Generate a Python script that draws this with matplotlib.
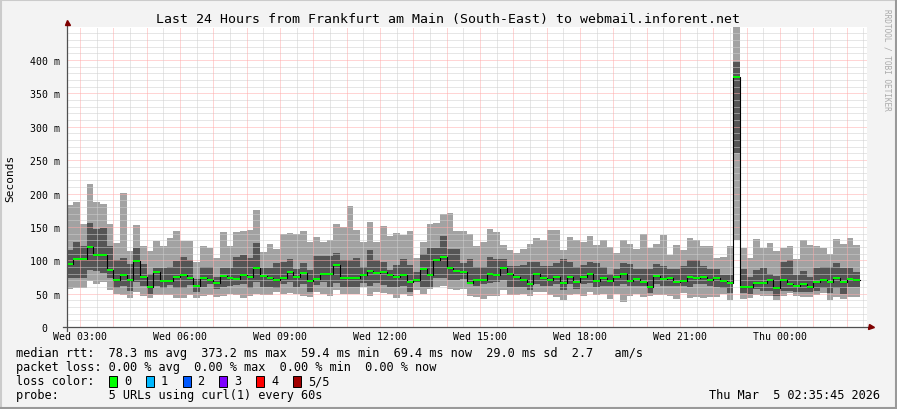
import matplotlib
matplotlib.use("Agg")
import matplotlib.pyplot as plt
import numpy as np
from matplotlib.lines import Line2D
from matplotlib.patches import Rectangle

# 12 minute bars, times in hours since Wed 00:00
t_first = 2.6
t_step = 0.2

# median rtt per bar (ms)
median = [95, 102, 102, 120, 108, 108, 86, 71, 78, 71, 99, 75, 60, 83, 69, 69, 75, 78, 74, 62,
          74, 71, 66, 77, 74, 72, 78, 75, 89, 77, 74, 71, 74, 83, 75, 81, 69, 72, 80, 80,
          93, 74, 74, 74, 78, 84, 81, 83, 78, 75, 78, 68, 71, 87, 78, 101, 105, 89, 84, 82,
          66, 71, 71, 80, 78, 89, 80, 75, 71, 65, 79, 74, 71, 75, 66, 75, 68, 75, 79, 69,
          73, 69, 75, 79, 69, 72, 67, 60, 77, 72, 74, 67, 69, 75, 74, 75, 71, 74, 69, 66,
          375, 60, 60, 66, 66, 71, 59, 71, 65, 62, 65, 60, 68, 71, 68, 73, 68, 72, 70]

# smoke: outer (light) band and inner (dark) band
light_top = [183, 187, 155, 214, 187, 184, 154, 126, 201, 114, 153, 121, 114, 129, 121, 134, 144, 129, 129, 98,
             121, 118, 104, 142, 121, 142, 144, 146, 176, 112, 124, 117, 140, 141, 140, 144, 127, 135, 127, 130,
             154, 150, 181, 145, 127, 157, 127, 152, 136, 141, 138, 144, 103, 128, 154, 156, 170, 171, 144, 144,
             140, 121, 128, 147, 143, 123, 116, 111, 117, 125, 133, 130, 146, 146, 115, 135, 130, 127, 136, 123,
             130, 120, 111, 130, 125, 117, 140, 118, 125, 138, 108, 123, 115, 133, 130, 121, 121, 103, 105, 121,
             460, 119, 103, 132, 118, 126, 114, 119, 121, 102, 130, 123, 121, 119, 110, 132, 124, 134, 123]
dark_top = [116, 128, 122, 156, 147, 149, 122, 101, 103, 94, 118, 94, 79, 88, 88, 90, 99, 105, 100, 72,
            90, 90, 75, 88, 88, 105, 108, 103, 126, 88, 88, 96, 97, 102, 87, 96, 85, 106, 106, 106,
            111, 101, 101, 104, 90, 115, 101, 98, 86, 93, 102, 93, 83, 110, 118, 118, 137, 117, 117, 96,
            102, 90, 90, 105, 102, 102, 92, 92, 93, 98, 98, 92, 92, 96, 102, 98, 90, 93, 98, 96,
            90, 80, 87, 96, 95, 87, 87, 87, 95, 91, 87, 87, 92, 100, 100, 92, 87, 87, 78, 78,
            397, 87, 75, 86, 88, 80, 76, 98, 100, 78, 84, 75, 88, 90, 90, 96, 88, 88, 82]
dark_bot = [73, 74, 74, 86, 84, 81, 73, 58, 61, 54, 68, 61, 49, 61, 59, 63, 59, 59, 63, 52,
            60, 65, 57, 60, 61, 63, 65, 58, 68, 60, 60, 58, 65, 67, 60, 65, 53, 63, 67, 60,
            66, 60, 60, 60, 66, 61, 66, 63, 60, 60, 61, 53, 68, 60, 60, 73, 74, 70, 70, 72,
            65, 62, 65, 66, 67, 70, 60, 60, 60, 56, 65, 62, 61, 65, 56, 65, 57, 65, 66, 60,
            62, 61, 62, 64, 61, 62, 61, 51, 64, 61, 62, 61, 62, 60, 64, 64, 62, 60, 58, 51,
            261, 51, 50, 57, 54, 54, 47, 54, 54, 53, 53, 53, 54, 58, 51, 58, 50, 60, 60]
light_bot = [57, 58, 58, 69, 64, 67, 56, 49, 48, 44, 52, 47, 43, 48, 48, 48, 44, 44, 48, 43,
             47, 48, 45, 47, 50, 48, 43, 46, 50, 48, 48, 52, 50, 51, 50, 46, 45, 53, 50, 47,
             55, 50, 50, 50, 60, 46, 53, 51, 50, 43, 50, 46, 56, 50, 57, 60, 61, 57, 56, 57,
             46, 45, 42, 47, 47, 55, 48, 48, 50, 47, 52, 52, 48, 45, 41, 48, 50, 46, 52, 48,
             50, 42, 50, 38, 47, 50, 45, 46, 48, 48, 46, 42, 51, 43, 45, 43, 45, 45, 50, 40,
             131, 42, 43, 48, 47, 46, 41, 47, 51, 46, 45, 45, 48, 51, 41, 45, 42, 45, 45]

y_ticks = [0, 50, 100, 150, 200, 250, 300, 350, 400]
y_labels = ["0  ", "50 m", "100 m", "150 m", "200 m", "250 m", "300 m", "350 m", "400 m"]
x_ticks = [3, 6, 9, 12, 15, 18, 21, 24]
x_labels = ["Wed 03:00", "Wed 06:00", "Wed 09:00", "Wed 12:00",
            "Wed 15:00", "Wed 18:00", "Wed 21:00", "Thu 00:00"]

loss_names = ["0", "1", "2", "3", "4", "5/5"]
loss_colors = ["#00ff00", "#00b8ff", "#0059ff", "#7e00ff", "#ff0000", "#a10000"]

W, H = 897, 410
MONO = "DejaVu Sans Mono"


def fx(x):
    return x / W


def fy(y):
    return 1 - y / H


fig = plt.figure(figsize=(W / 100, H / 100), dpi=100, facecolor="#f3f3f3")
ax = fig.add_axes([fx(67), fy(328), 800 / W, 300 / H])
ax.set_facecolor("white")
x0 = 2.61
ax.set_xlim(x0, x0 + 24)
ax.set_ylim(0, 449.5)


def ext(a):
    a = np.asarray(a, dtype=float)
    return np.append(a, a[-1])


n = len(median)
xs = t_first + t_step * np.arange(n + 1)

ax.fill_between(xs, ext(light_bot), ext(light_top), step="post", color="#a2a2a2", lw=0, zorder=1)
ax.fill_between(xs, ext(dark_bot), ext(dark_top), step="post", color="#555555", lw=0, zorder=2)

# dotted grid on top of the smoke
dots = (0, (1, 1))
minor_col = "#cfcfcf"
major_col = "#ffaaaa"
for v in range(10, 450, 10):
    if v % 50:
        ax.axhline(v, color=minor_col, lw=0.72, ls=dots, zorder=3)
for v in range(50, 450, 50):
    ax.axhline(v, color=major_col, lw=0.72, ls=dots, zorder=3)
for h in np.arange(3.5, 27, 1.0):
    ax.axvline(h, color=minor_col, lw=0.72, ls=dots, zorder=3)
for h in range(3, 27):
    ax.axvline(h, color=major_col, lw=0.72, ls=dots, zorder=3)

ax.step(xs, ext(median), where="post", color="black", lw=0.8, zorder=4)
ax.hlines(median, xs[:-1], xs[1:], color="#00ff00", lw=1.4, zorder=5)

for s in ax.spines.values():
    s.set_visible(False)
ax.set_yticks(y_ticks)
ax.set_yticklabels(y_labels, family=MONO, fontsize=7.1)
ax.set_xticks(x_ticks)
ax.set_xticklabels(x_labels, family=MONO, fontsize=7.1)
ax.tick_params(axis="y", length=0, pad=5)
ax.tick_params(axis="x", length=0, pad=3)

# axes with arrows
axis_col = "#505050"
fig.add_artist(Line2D([fx(67), fx(67)], [fy(332), fy(24)], color=axis_col, lw=0.9))
fig.add_artist(Line2D([fx(63), fx(870)], [fy(328), fy(328)], color=axis_col, lw=0.9))
fig.add_artist(Line2D([fx(67)], [fy(23)], marker="^", ms=3.6, color="#7f0000", lw=0))
fig.add_artist(Line2D([fx(871)], [fy(328)], marker=">", ms=3.6, color="#7f0000", lw=0))

# frame shading
fig.add_artist(Line2D([0, 1], [fy(1), fy(1)], color="#cbcbcb", lw=1.5))
fig.add_artist(Line2D([fx(1), fx(1)], [0, 1], color="#cbcbcb", lw=1.5))
fig.add_artist(Line2D([fx(896), fx(896)], [0, 1], color="#999999", lw=1.5))
fig.add_artist(Line2D([0, 1], [fy(409), fy(409)], color="#999999", lw=1.5))

fig.text(fx(448), fy(19), "Last 24 Hours from Frankfurt am Main (South-East) to webmail.inforent.net",
         family=MONO, fontsize=9.5, ha="center", va="center")
fig.text(fx(10), fy(178), "Seconds", family=MONO, fontsize=8, rotation=90, ha="center", va="center")
fig.text(fx(887), fy(60), "RRDTOOL / TOBI OETIKER", family=MONO, fontsize=5.6, rotation=270,
         ha="center", va="center", color="#aaaaaa")

leg = dict(family=MONO, fontsize=8.55, va="center", ha="left")
fig.text(fx(16), fy(354), "median rtt:  78.3 ms avg  373.2 ms max  59.4 ms min  69.4 ms now  29.0 ms sd  2.7   am/s", **leg)
fig.text(fx(16), fy(368), "packet loss: 0.00 % avg  0.00 % max  0.00 % min  0.00 % now", **leg)
fig.text(fx(16), fy(382), "loss color:", **leg)
fig.text(fx(16), fy(396), "probe:       5 URLs using curl(1) every 60s", **leg)
fig.text(fx(880), fy(396), "Thu Mar  5 02:35:45 2026", family=MONO, fontsize=8.55, va="center", ha="right")

for i, (name, col) in enumerate(zip(loss_names, loss_colors)):
    bx = 109 + 36.8 * i
    fig.add_artist(Rectangle((fx(bx), fy(388)), 8 / W, 11 / H, facecolor=col,
                             edgecolor="black", lw=0.7, transform=fig.transFigure))
    fig.text(fx(bx + 15), fy(382), name, **leg)

fig.savefig("out.png", dpi=100, facecolor=fig.get_facecolor())
